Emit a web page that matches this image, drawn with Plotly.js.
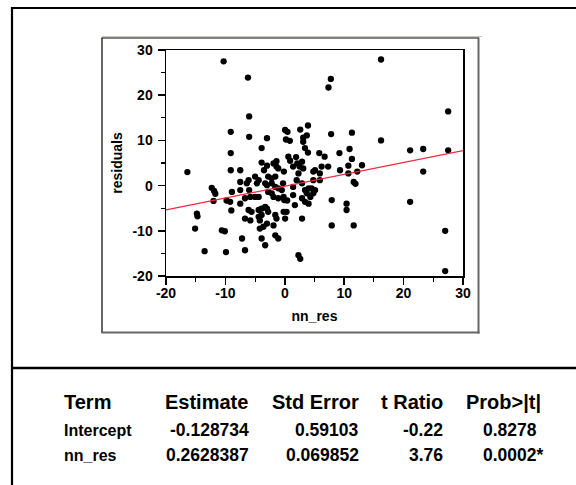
<!DOCTYPE html>
<html>
<head>
<meta charset="utf-8">
<script src="https://cdn.plot.ly/plotly-3.0.1.min.js"></script>
<style>
  html, body { margin: 0; padding: 0; background: #ffffff; }
  #chart { width: 576px; height: 485px; }
</style>
</head>
<body>
<div id="chart"></div>
<script>
// ---- data ----
const nnRes = [
  -10.3, -6.2, -6.0, -9.1, -6.0, -3.0, 0.05, 0.45, 0.2, 0.85,
  2.6, 3.9, 3.1, 3.7, 3.1, 7.8, 11.3, 16.2, 16.2, 7.75,
  7.35, 27.5, -3.9, 3.4, 10.9, 21.1, 23.3, 27.5,
  -16.4, -9.1, -9.1, -7.5, -3.9, -3.0, -3.5, -1.9, -1.4, -1.4,
  -1.1, -0.15, 0.6, 0.9, 1.9, 2.1, 2.5, 1.4, 3.9, 5.8,
  6.7, 9.2, 11.3, 13.0, 12.2, 23.3, 4.8, 5.1, 5.9, 6.2,
  7.3, 9.3, 10.7, 10.7, 2.3, 3.1, 2.9, 11.6, 11.9, 4.8,
  5.9, 2.0, 2.9,
  -12.3, -11.9, -11.7, -12.0, -14.8, -14.7, -15.1, -13.5, -9.9, -10.6,
  -10.1, -9.8, -9.2, -8.9, -9.0, -7.2, -6.7, -7.5, -7.5, -7.5,
  -6.4, -6.1, -6.0, -6.7, -5.8, -5.0, -4.4, -5.0, -4.4, -4.7,
  -2.8, -2.2, -3.3, -3.0, -1.6, -2.2, -1.6, -1.1, -2.8, -2.2,
  -1.9, -1.1, -0.2, -6.1, -5.6, -6.7, -5.8, -4.4, -3.9, -3.3,
  -3.0, -2.8, -4.4, -3.9, -4.2, -1.6, -1.4, -0.2, 0.3, 0.05,
  -3.0, -3.6, -4.2, -1.9, -1.6, -1.1, -3.9, -3.3, 2.3, 2.6,
  1.4, 1.7, 2.9, 3.4, 4.0, 3.7, 2.9, 3.4, 4.0, 4.3,
  4.8, 4.5, 5.1, 7.9, 7.9, 10.4, 10.4, 11.6, 21.1, 27.0,
  27.0, 1.4, -0.5, -0.1, 0.4, -0.3
];
const residuals = [
  27.5, 23.9, 15.3, 11.9, 10.8, 10.5, 12.3, 11.9, 10.2, 9.9,
  12.4, 13.3, 10.6, 11.1, 9.7, 11.4, 11.7, 10.0, 27.9, 23.6,
  21.7, 16.4, 8.3, 8.3, 8.1, 7.8, 8.1, 7.8,
  3.0, 7.2, 3.4, 3.4, 5.1, 4.4, 3.4, 4.9, 5.4, 4.2,
  3.8, 3.1, 6.4, 5.5, 6.3, 4.9, 4.2, 4.2, 7.3, 7.2,
  6.4, 7.2, 5.9, 4.5, 3.1, 3.1, 3.1, 3.4, 2.7, 4.2,
  4.2, 3.4, 4.4, 2.7, 2.7, 3.8, 5.3, 0.8, 0.4, 1.2,
  1.2, 1.2, 0.5,
  -0.5, -1.2, -1.8, -3.4, -6.2, -6.8, -9.5, -14.5, -14.7, -9.9,
  -10.1, -3.3, -3.6, -1.4, -5.5, -11.7, -14.3, -4.0, -1.0, 0.8,
  0.5, 1.2, -1.0, -2.8, -2.5, -2.5, -2.5, 2.0, 1.2, 0.5,
  2.0, 1.6, 0.5, 0.1, 2.0, 0.5, -0.3, -0.6, -1.4, -1.7,
  -2.5, -2.8, -2.5, -5.4, -5.8, -7.3, -7.7, -5.4, -5.1, -4.7,
  -5.1, -5.8, -6.9, -6.5, -7.7, -6.5, -7.3, -5.8, -5.8, -7.3,
  -8.4, -9.1, -9.5, -8.8, -11.0, -11.7, -11.7, -13.2, -15.4, -16.2,
  -2.1, -4.3, -7.3, -1.0, -0.6, -1.7, -2.8, -3.6, -4.0, -2.5,
  -1.7, -0.6, -1.0, -3.2, -8.8, -4.0, -5.4, -8.8, -3.6, -10.0,
  -18.9, -0.3, -1.0, -3.2, -3.3, 0.5
];

const xRange = [-20, 30];
const yRange = [-20, 30];
const tickVals = [-20, -10, 0, 10, 20, 30];
const tickText = ['-20', '-10', '0', '10', '20', '30'];

const tableHeaders = ['Term', 'Estimate', 'Std Error', 't Ratio', 'Prob>|t|'];
const terms = ['Intercept', 'nn_res'];
const estimates = [-0.128734, 0.2628387];
const stdErrors = [0.59103, 0.069852];
const tRatios = [-0.22, 3.76];
const probs = [0.8278, 0.0002];

// ---- figure ----
const FONT = '"Liberation Sans", Arial, Helvetica, sans-serif';
const PL = 166, PT = 50, PW = 297, PH = 226;
const px = v => (v - PL) / PW;
const py = v => (PT + PH - v) / PH;

const fitX = xRange.slice();
const fitY = fitX.map(x => estimates[0] + estimates[1] * x);

const traces = [
  {
    type: 'scatter', mode: 'markers', x: nnRes, y: residuals,
    marker: { color: '#000000', size: 6.3 }, hoverinfo: 'skip'
  },
  {
    type: 'scatter', mode: 'lines', x: fitX, y: fitY,
    line: { color: '#f0283c', width: 1.3 }, hoverinfo: 'skip'
  }
];

const annotations = [];
function addText(text, xPix, yPix, size, anchor) {
  annotations.push({
    xref: 'paper', yref: 'paper', x: px(xPix), y: py(yPix),
    xanchor: anchor, yanchor: 'middle', showarrow: false,
    text: text, font: { family: FONT, size: size, color: '#000', weight: 'bold' }
  });
}
// header row
const headX = [62, 250, 361, 445, 543];
const headAnchor = ['left', 'right', 'right', 'right', 'right'];
tableHeaders.forEach((h, i) => addText(h, headX[i], 402, 20, headAnchor[i]));
// body rows
const rowY = [430, 455];
terms.forEach((t, r) => {
  addText(t, 62, rowY[r], 16, 'left');
  addText(String(estimates[r]), 251, rowY[r], 17.5, 'right');
  addText(String(stdErrors[r]), 361, rowY[r], 17.5, 'right');
  addText(tRatios[r].toFixed(2), 445, rowY[r], 17.5, 'right');
  addText(String(probs[r]) + (probs[r] < 0.05 ? '*' : ''), 481, rowY[r], 17.5, 'left');
});

function hline(y, x0, x1, w, c) {
  return { type: 'line', xref: 'paper', yref: 'paper', x0: px(x0), x1: px(x1), y0: py(y), y1: py(y), line: { color: c, width: w } };
}
function vline(x, y0, y1, w, c) {
  return { type: 'line', xref: 'paper', yref: 'paper', x0: px(x), x1: px(x), y0: py(y0), y1: py(y1), line: { color: c, width: w } };
}
const shapes = [
  vline(12, 7, 490, 2.2, '#000'),
  hline(8, 11, 580, 2.2, '#000'),
  hline(368, 11, 580, 2.5, '#000'),
  hline(36.5, 102, 482, 1, '#c8c8c0'),
  hline(38, 101.5, 479, 1.2, '#000'),
  vline(102, 38, 333, 1.2, '#000'),
  vline(478.5, 37.5, 333.5, 2, '#666'),
  hline(332.5, 101.5, 479.5, 2, '#666')
];

const axisCommon = {
  tickmode: 'array', tickvals: tickVals, ticktext: tickText,
  ticks: 'outside', ticklen: 7, tickwidth: 1.5, tickcolor: '#000',
  showline: true, linecolor: '#000', linewidth: 1.5, mirror: true,
  showgrid: false, zeroline: false, fixedrange: true,
  tickfont: { family: FONT, size: 14, color: '#000', weight: 'bold' },
  minor: { dtick: 5, tick0: 0, ticks: 'outside', ticklen: 4, tickwidth: 1.2, tickcolor: '#000', showgrid: false }
};

const layout = {
  width: 576, height: 485,
  margin: { l: PL, r: 576 - PL - PW, t: PT, b: 485 - PT - PH, pad: 0 },
  paper_bgcolor: '#ffffff', plot_bgcolor: '#ffffff',
  showlegend: false,
  font: { family: FONT, color: '#000' },
  xaxis: Object.assign({}, axisCommon, {
    range: xRange, ticklabelstandoff: -3,
    title: { text: 'nn_res', font: { family: FONT, size: 14, color: '#000', weight: 'bold' }, standoff: 11 }
  }),
  yaxis: Object.assign({}, axisCommon, {
    range: yRange, ticklabelstandoff: 2,
    title: { text: 'residuals', font: { family: FONT, size: 14, color: '#000', weight: 'bold' }, standoff: 6 }
  }),
  shapes: shapes,
  annotations: annotations
};

Plotly.newPlot('chart', traces, layout, { displayModeBar: false, staticPlot: true });
</script>
</body>
</html>
